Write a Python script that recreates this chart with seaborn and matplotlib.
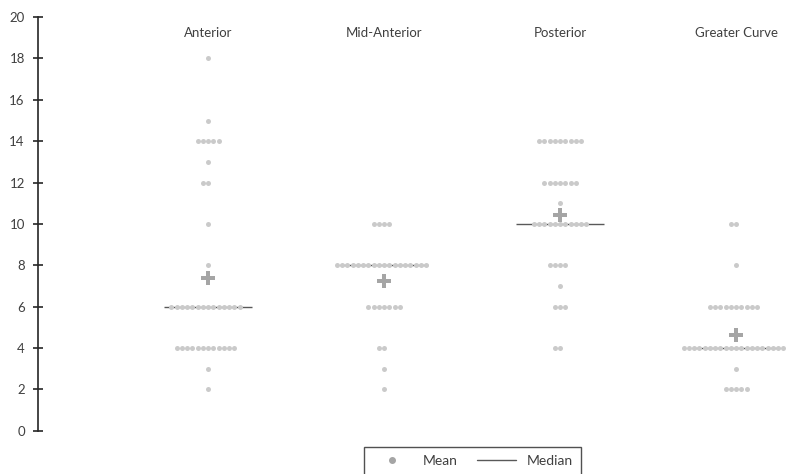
import matplotlib
matplotlib.use("Agg")
import matplotlib.pyplot as plt
import numpy as np
import pandas as pd
import seaborn as sns
from matplotlib.lines import Line2D
from matplotlib.transforms import blended_transform_factory


regions = ["Anterior", "Mid-Anterior", "Posterior", "Greater Curve"]

anterior_values = [18, 15, 14, 13, 12, 10, 8, 6, 4, 3, 2]
anterior_counts = [1, 1, 5, 1, 2, 1, 1, 14, 12, 1, 1]

mid_anterior_values = [10, 8, 6, 4, 3, 2]
mid_anterior_counts = [4, 18, 7, 2, 1, 1]

posterior_values = [14, 12, 11, 10, 8, 7, 6, 4]
posterior_counts = [9, 7, 1, 11, 4, 1, 3, 2]

greater_curve_values = [10, 8, 6, 4, 3, 2]
greater_curve_counts = [2, 1, 10, 20, 1, 5]

y_ticks = [0, 2, 4, 6, 8, 10, 12, 14, 16, 18, 20]

DOT_COLOR = "#cacaca"
MEAN_COLOR = "#a5a5a5"
MEDIAN_COLOR = "#595959"
TEXT_COLOR = "#404040"


def build_frame() -> pd.DataFrame:
    rows = []
    series = [
        (anterior_values, anterior_counts),
        (mid_anterior_values, mid_anterior_counts),
        (posterior_values, posterior_counts),
        (greater_curve_values, greater_curve_counts),
    ]
    for region, (values, counts) in zip(regions, series):
        for value, count in zip(values, counts):
            rows += [{"region": region, "value": value}] * count
    return pd.DataFrame(rows)


def main() -> None:
    df = build_frame()
    sns.set_theme(style="white")
    plt.rcParams["font.family"] = ["Lato", "DejaVu Sans"]

    fig = plt.figure(figsize=(7.92, 4.74), dpi=100)
    ax = fig.add_axes([0.048, 0.091, 0.952, 0.873])

    sns.swarmplot(data=df, x="region", y="value", order=regions, color=DOT_COLOR,
                  size=3.6, linewidth=0, ax=ax, zorder=2)

    stats = df.groupby("region")["value"].agg(["mean", "median"]).reindex(regions)
    for i, region in enumerate(regions):
        ax.hlines(stats.loc[region, "median"], i - 0.25, i + 0.25, color=MEDIAN_COLOR, linewidth=1, zorder=1)
    ax.scatter(np.arange(len(regions)), stats["mean"], marker="P", s=110, color=MEAN_COLOR,
               linewidths=0, zorder=3)

    ax.set_xlim(-0.966, 3.318)
    ax.set_ylim(0, 20)
    ax.set_yticks(y_ticks)
    ax.set_xticks([])
    ax.set_xlabel("")
    ax.set_ylabel("")
    for side in ["top", "right", "bottom"]:
        ax.spines[side].set_visible(False)
    ax.spines["left"].set_color("#262626")
    ax.spines["left"].set_linewidth(1.2)
    ax.tick_params(axis="y", direction="inout", length=7, width=1.2, color="#262626",
                   labelsize=9.5, labelcolor=TEXT_COLOR, pad=6, left=True)

    trans = blended_transform_factory(ax.transData, ax.transAxes)
    for i, region in enumerate(regions):
        ax.text(i, 0.962, region, transform=trans, ha="center", va="center", fontsize=9.5, color=TEXT_COLOR)

    handles = [
        Line2D([], [], marker="o", linestyle="none", markersize=4, color=MEAN_COLOR),
        Line2D([], [], color=MEDIAN_COLOR, linewidth=1),
    ]
    legend = fig.legend(handles, ["Mean", "Median"], loc="upper center", bbox_to_anchor=(0.597, 0.058),
                        ncol=2, frameon=True, fancybox=False, fontsize=10, handlelength=2.8,
                        columnspacing=1.4, borderpad=0.6, borderaxespad=0, labelcolor=TEXT_COLOR)
    legend.get_frame().set_edgecolor("#262626")
    legend.get_frame().set_linewidth(1)

    fig.savefig("out.png", dpi=100)
    plt.close(fig)


if __name__ == "__main__":
    main()
